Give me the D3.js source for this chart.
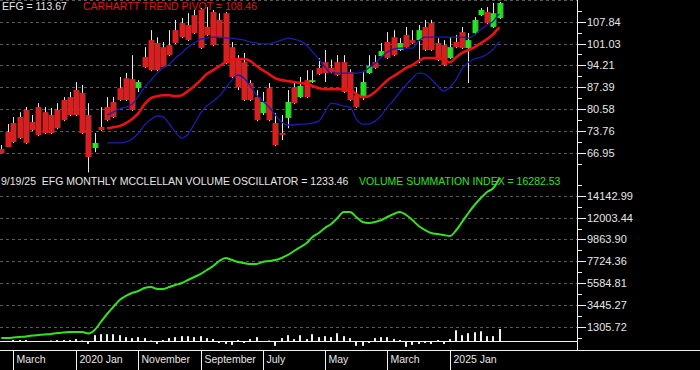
<!DOCTYPE html>
<html>
<head>
<meta charset="utf-8">
<script src="https://cdn.jsdelivr.net/npm/d3@7"></script>
<style>
  html, body { margin: 0; padding: 0; background: #000; }
  svg { display: block; }
  text { font-family: "Liberation Sans", Arial, sans-serif; font-size: 10.5px; }
  text.ax { font-size: 11px; }
</style>
</head>
<body>
<div id="chart"></div>
<script>
/* EFG monthly: candles + Carhartt trend pivot + bands, volume summation index, McClellan volume osc */

const W = 700, H = 370;
const AXIS_X = 577;

// months Jan 2019 .. Sep 2025
const months = d3.timeMonth.range(new Date(2019, 0, 1), new Date(2025, 9, 2));

const open = [68.1, 73.4, 76.2, 78.1, 80.3, 76.5, 81.2, 79.6, 78.7, 80.3, 83.4, 84.3, 86.5, 85.6, 78.7, 68.4, 75.0,
  81.2, 82.8, 87.1, 90.2, 89.9, 87.1, 96.8, 102.1, 101.2, 99.9, 100.5, 105.2, 107.4, 106.8, 109.9, 111.5, 106.2,
  110.9, 108.4, 110.5, 99.9, 96.5, 95.2, 88.7, 84.3, 79.3, 87.1, 76.2, 73.1, 77.8, 87.4, 84.3, 89.6, 89.0, 93.4,
  95.2, 93.4, 95.2, 95.2, 92.1, 84.9, 84.3, 91.8, 95.2, 97.1, 101.5, 103.0, 99.0, 103.7, 102.1, 102.1, 106.2,
  107.4, 101.2, 100.5, 96.5, 101.5, 104.6, 99.6, 104.3, 109.9, 110.9, 106.2, 109.0];
const high = [69.3, 75.9, 78.1, 79.6, 81.2, 78.7, 82.4, 81.2, 80.9, 82.4, 84.3, 85.9, 89.0, 88.1, 82.4, 73.1, 81.2,
  84.3, 84.3, 90.6, 91.8, 97.4, 89.6, 99.9, 105.2, 103.0, 101.5, 105.2, 108.4, 109.0, 110.5, 111.5, 112.1, 112.4,
  111.5, 110.5, 110.8, 101.5, 97.4, 98.1, 89.6, 86.5, 85.9, 88.7, 79.3, 78.7, 86.5, 89.0, 90.6, 92.7, 92.7, 96.5,
  99.0, 96.0, 97.4, 97.4, 93.0, 87.4, 92.1, 97.4, 97.4, 101.2, 104.6, 105.2, 102.7, 106.2, 105.2, 106.8, 108.4,
  108.4, 102.7, 102.1, 103.0, 103.7, 106.2, 104.3, 109.3, 112.1, 112.4, 113.7, 114.0];
const low = [66.8, 68.7, 70.0, 71.2, 69.7, 73.7, 72.2, 72.8, 72.8, 74.3, 76.8, 78.4, 78.4, 72.8, 60.8, 67.1, 73.7,
  76.8, 77.8, 83.1, 83.1, 80.0, 85.9, 93.4, 92.4, 92.4, 93.4, 97.1, 100.9, 102.7, 101.8, 104.0, 99.3, 103.4,
  100.2, 102.7, 94.6, 90.3, 86.5, 83.1, 83.1, 76.8, 78.7, 76.8, 69.0, 70.9, 74.6, 82.1, 84.0, 84.0, 88.7, 91.2,
  89.0, 91.8, 90.9, 85.6, 83.1, 80.9, 83.4, 91.5, 93.1, 96.8, 96.2, 97.1, 98.7, 99.6, 100.9, 94.9, 98.7,
  98.7, 95.6, 94.0, 96.2, 99.6, 99.3, 88.7, 104.0, 109.6, 107.1, 105.9, 108.7];
const close = [66.8, 68.7, 70.3, 71.5, 70.0, 74.0, 72.5, 73.1, 73.1, 74.6, 77.1, 78.7, 78.7, 73.1, 65.6, 70.0, 74.0,
  77.1, 78.1, 83.4, 83.4, 80.3, 89.0, 93.7, 92.7, 92.7, 93.7, 97.4, 101.2, 103.0, 102.1, 104.3, 99.6, 103.7,
  100.5, 103.0, 94.9, 90.6, 87.4, 83.4, 83.4, 77.1, 82.8, 77.1, 69.3, 72.5, 82.8, 82.4, 87.8, 84.3, 89.6, 91.5,
  91.8, 92.1, 91.2, 85.9, 83.4, 81.2, 89.0, 94.0, 93.4, 98.7, 96.5, 97.4, 101.2, 99.9, 101.2, 105.2, 99.0,
  99.0, 95.9, 94.3, 99.9, 99.9, 99.6, 102.1, 108.4, 111.5, 107.4, 110.5, 113.67];

// trend pivot and its bands start in June 2020
const trendStart = new Date(2020, 5, 1);
const trendPivot = [74.6, 74.9, 75.3, 76.2, 77.5, 79.3, 82.1, 84.0, 84.6, 84.9, 84.9, 84.6, 84.9, 86.2, 87.8, 89.6,
  91.5, 92.7, 94.0, 95.2, 95.9, 96.2, 96.2, 95.6, 94.0, 92.7, 91.5, 90.2, 89.6, 89.3, 89.0, 88.7, 88.4, 87.8, 87.1,
  86.8, 86.8, 86.8, 86.8, 86.5, 85.3, 84.3, 84.6, 85.9, 87.8, 89.6, 90.9, 92.1, 93.4, 94.3, 95.6, 96.5, 96.5, 96.5,
  95.9, 95.2, 96.8, 98.1, 99.0, 99.9, 101.2, 102.4, 104.0, 105.9];
const upperBand = [78.7, 79.6, 80.6, 81.2, 82.1, 84.6, 87.4, 89.6, 91.8, 93.4, 94.6, 96.5, 98.1, 99.9, 101.2, 102.4,
  102.7, 103.0, 103.0, 102.7, 102.7, 102.4, 102.1, 101.5, 101.2, 100.9, 100.9, 101.5, 102.1, 102.7, 102.4, 101.8,
  100.5, 98.4, 96.2, 93.7, 91.8, 91.8, 91.8, 91.8, 91.8, 92.1, 93.4, 94.9, 96.8, 98.4, 99.3, 99.6, 99.6, 99.6,
  101.8, 103.0, 103.0, 103.0, 103.0, 103.0, 103.0, 103.0, 102.7, 103.7, 105.5, 106.8, 108.0, 110.2];
const lowerBand = [70.0, 70.0, 70.0, 70.3, 71.2, 73.1, 75.6, 77.4, 78.4, 78.1, 75.9, 73.4, 71.5, 72.8, 75.9, 79.3,
  81.5, 83.1, 84.6, 87.1, 89.6, 91.2, 90.2, 87.8, 84.9, 83.1, 81.2, 78.7, 76.5, 75.6, 75.6, 75.9, 75.9, 76.2, 76.8,
  79.6, 82.4, 82.1, 81.5, 81.2, 77.5, 75.9, 75.9, 76.8, 78.7, 81.2, 83.4, 85.9, 88.1, 90.2, 91.8, 91.5, 89.9, 87.8,
  86.2, 87.4, 89.9, 93.1, 95.2, 96.2, 96.8, 97.7, 99.3, 101.5];

const summation = [230, 230, 279, 328, 377, 475, 524, 572, 621, 719, 768, 817, 817, 817, 670, 1012, 1795, 2577,
  3261, 3946, 4337, 4630, 4826, 5119, 5217, 5021, 5021, 5217, 5412, 5608, 5901, 6195, 6488, 6879, 7270, 7759, 8053,
  7857, 7661, 7563, 7466, 7466, 7661, 7759, 7857, 8053, 8346, 8737, 9128, 9519, 10106, 10497, 10986, 11377, 11964,
  12550, 12550, 12061, 11572, 11475, 11572, 11768, 12061, 12355, 12550, 12257, 11768, 11181, 10790, 10497, 10399,
  10302, 10204, 10790, 11572, 12453, 13235, 13919, 14506, 14897, 15900];

const oscillator = [0, 0, 100, 100, 100, 0, 0, 0, 50, 100, 100, 100, 200, 50, -300, 600, 700, 700, 700, 600, 400,
  300, 400, 300, 50, -300, 100, 300, 400, 500, 500, 400, 500, 300, 200, -200, -300, -400, 100, -200, 200, 400, 0,
  50, -500, 300, 600, 200, 600, 200, 700, 400, 500, 400, 800, 500, 300, -500, -500, -200, 300, 400, 400, 200, 100,
  -600, -400, -300, -200, -300, 100, -300, 200, 1100, 600, 800, 900, 1000, 500, 500, 1233.46];

const priceTicks = [66.95, 73.76, 80.58, 87.39, 94.21, 101.03, 107.84];
const volTicks = [1305.72, 3445.27, 5584.81, 7724.36, 9863.90, 12003.44, 14142.99];
const monthMarks = [new Date(2019, 2, 1), new Date(2020, 0, 1), new Date(2020, 10, 1), new Date(2021, 8, 1),
  new Date(2022, 6, 1), new Date(2023, 4, 1), new Date(2024, 2, 1), new Date(2025, 0, 1)];
const monthMarkLabels = ["March", "2020 Jan", "November", "September", "July", "May", "March", "2025 Jan"];

// --- scales ---------------------------------------------------------------
const x = d3.scaleTime().domain([new Date(2020, 0, 1), new Date(2025, 0, 1)]).range([76, 450]);
const yP = d3.scaleLinear().domain([66.95, 107.84]).range([152.7, 21.7]);
const yV = d3.scaleLinear().domain([1305.72, 14142.99]).range([327, 195.7]);
const yO = d3.scaleLinear().domain([0, 1233.46]).range([341, 329]);

const svg = d3.select("#chart").append("svg").attr("width", W).attr("height", H);
svg.append("rect").attr("width", W).attr("height", H).attr("fill", "#000");

const defs = svg.append("defs");
function grad(id, a, b) {
  const g = defs.append("linearGradient").attr("id", id);
  g.append("stop").attr("offset", "0").attr("stop-color", a);
  g.append("stop").attr("offset", "0.55").attr("stop-color", a);
  g.append("stop").attr("offset", "1").attr("stop-color", b);
}
grad("gRed", "#e01c1c", "#a03838");
grad("gGreen", "#1ee81e", "#4aa04a");

// --- grid -------------------------------------------------------------------
const GRID = "#5a5a5a";
const grid = svg.append("g");
const priceStep = priceTicks[1] - priceTicks[0];
const volStep = volTicks[1] - volTicks[0];
[...priceTicks, priceTicks[6] + priceStep].forEach(v => {
  grid.append("line").attr("x1", 0).attr("x2", AXIS_X).attr("y1", Math.round(yP(v)) + 0.5).attr("y2", Math.round(yP(v)) + 0.5)
    .attr("stroke", GRID).attr("stroke-dasharray", "3 3");
});
volTicks.forEach(v => {
  grid.append("line").attr("x1", 0).attr("x2", AXIS_X).attr("y1", Math.round(yV(v)) + 0.5).attr("y2", Math.round(yV(v)) + 0.5)
    .attr("stroke", GRID).attr("stroke-dasharray", "3 3");
});

// --- candles ----------------------------------------------------------------
const candles = months.map((d, i) => ({ d, o: open[i], h: high[i], l: low[i], c: close[i] }));
const cg = svg.append("g");
cg.selectAll("line.wick").data(candles).join("line").attr("class", "wick")
  .attr("x1", d => Math.round(x(d.d)) + 0.5).attr("x2", d => Math.round(x(d.d)) + 0.5)
  .attr("y1", d => yP(d.h)).attr("y2", d => yP(d.l))
  .attr("stroke", "#e8e8e8").attr("stroke-width", 1);
cg.selectAll("rect.body").data(candles).join("rect").attr("class", "body")
  .attr("x", d => Math.round(x(d.d)) - 2.5).attr("width", 6)
  .attr("y", d => yP(Math.max(d.o, d.c)))
  .attr("height", d => Math.max(1.5, Math.abs(yP(d.o) - yP(d.c))))
  .attr("fill", d => d.c > d.o ? "url(#gGreen)" : "url(#gRed)");

// --- trend pivot + bands ----------------------------------------------------
const trendMonths = months.filter(d => d >= trendStart);
const lineP = d3.line().x(d => x(d[0])).y(d => yP(d[1])).curve(d3.curveMonotoneX);
const zip = arr => trendMonths.map((d, i) => [d, arr[i]]);
svg.append("path").attr("d", lineP(zip(upperBand))).attr("fill", "none").attr("stroke", "#1c1cae").attr("stroke-width", 1.3);
svg.append("path").attr("d", lineP(zip(lowerBand))).attr("fill", "none").attr("stroke", "#1c1cae").attr("stroke-width", 1.3);
svg.append("path").attr("d", lineP(zip(trendPivot))).attr("fill", "none").attr("stroke", "#e81212").attr("stroke-width", 2.6);

// --- volume summation index -------------------------------------------------
const lineV = d3.line().x((d, i) => x(months[i])).y(d => yV(d)).curve(d3.curveMonotoneX);
svg.append("path").attr("d", lineV(summation)).attr("fill", "none").attr("stroke", "#35e21f").attr("stroke-width", 2);

// --- oscillator bars --------------------------------------------------------
svg.append("line").attr("x1", 0).attr("x2", AXIS_X).attr("y1", yO(0) + 0.5).attr("y2", yO(0) + 0.5)
  .attr("stroke", "#f0f0f0");
svg.append("g").selectAll("rect").data(oscillator).join("rect")
  .attr("x", (d, i) => Math.round(x(months[i])) - 1).attr("width", 2)
  .attr("y", d => Math.min(yO(d), yO(0)))
  .attr("height", d => Math.abs(yO(d) - yO(0)))
  .attr("fill", "#f0f0f0");

// --- right axis -------------------------------------------------------------
const ax = svg.append("g").attr("fill", "#e6e6e6");
ax.append("line").attr("x1", AXIS_X + 0.5).attr("x2", AXIS_X + 0.5).attr("y1", 0).attr("y2", 350).attr("stroke", "#f0f0f0");
function tickSet(vals, step, scale, fmt) {
  vals.forEach(v => {
    const y = Math.round(scale(v)) + 0.5;
    ax.append("line").attr("x1", AXIS_X).attr("x2", AXIS_X + 9).attr("y1", y).attr("y2", y).attr("stroke", "#f0f0f0");
    ax.append("text").attr("class", "ax").attr("x", AXIS_X + 10).attr("y", y).attr("dy", "0.36em").text(fmt(v));
    const ym = Math.round(scale(v + step / 2)) + 0.5;
    ax.append("line").attr("x1", AXIS_X).attr("x2", AXIS_X + 5).attr("y1", ym).attr("y2", ym).attr("stroke", "#f0f0f0");
  });
  const yb = Math.round(scale(vals[0] - step / 2)) + 0.5;
  ax.append("line").attr("x1", AXIS_X).attr("x2", AXIS_X + 5).attr("y1", yb).attr("y2", yb).attr("stroke", "#f0f0f0");
}
tickSet(priceTicks, priceStep, yP, d3.format(".2f"));
tickSet(volTicks, volStep, yV, d3.format(".2f"));

// --- bottom date axis -------------------------------------------------------
const bx = svg.append("g");
bx.append("line").attr("x1", 0).attr("x2", W).attr("y1", 350.5).attr("y2", 350.5).attr("stroke", "#f0f0f0");
monthMarks.forEach((d, i) => {
  const px = Math.round(x(d)) + 0.5;
  bx.append("line").attr("x1", px).attr("x2", px).attr("y1", 350).attr("y2", H).attr("stroke", "#f0f0f0");
  bx.append("text").attr("x", px + 3).attr("y", 363).attr("fill", "#e6e6e6").text(monthMarkLabels[i]);
});

// --- titles -----------------------------------------------------------------
svg.append("text").attr("x", 2).attr("y", 10).attr("fill", "#e6e6e6").text("EFG = 113.67");
svg.append("text").attr("x", 83).attr("y", 10).attr("fill", "#e01414").text("CARHARTT TREND PIVOT = 108.46");
svg.append("text").attr("x", 1).attr("y", 185).attr("fill", "#e6e6e6").attr("xml:space", "preserve")
  .text("9/19/25  EFG MONTHLY MCCLELLAN VOLUME OSCILLATOR = 1233.46");
svg.append("text").attr("x", 359).attr("y", 185).attr("fill", "#2ee02e").text("VOLUME SUMMATION INDEX = 16282.53");
</script>
</body>
</html>
